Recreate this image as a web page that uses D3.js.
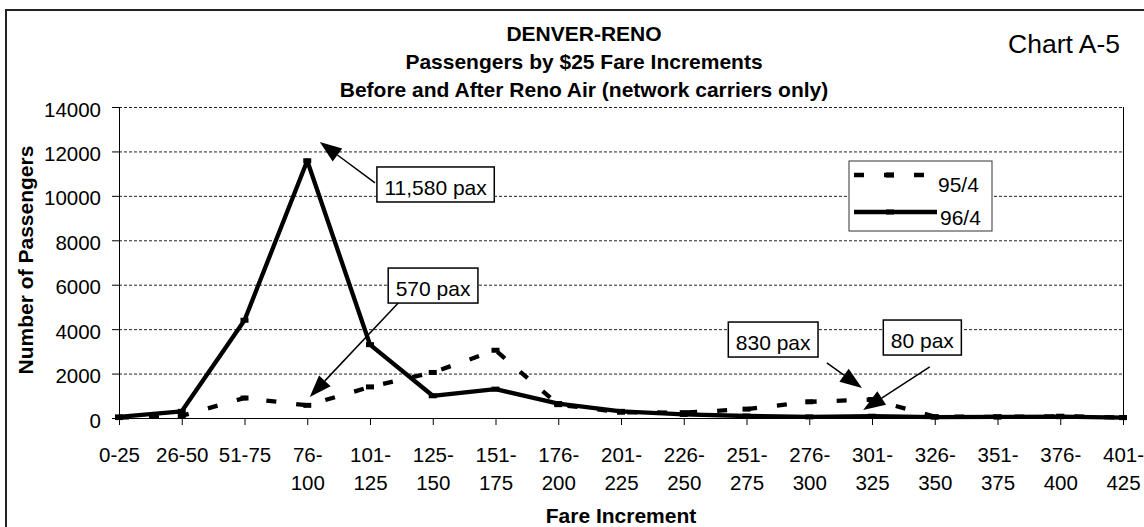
<!DOCTYPE html>
<html>
<head>
<meta charset="utf-8">
<script src="https://cdn.jsdelivr.net/npm/d3@7"></script>
<style>
  body { margin: 0; background: #fff; }
  svg { display: block; font-family: Arial, "Liberation Sans", sans-serif; }
</style>
</head>
<body>
<svg width="1144" height="527"></svg>
<script>
// fare buckets and passenger counts
var categories = ["0-25", "26-50", "51-75", "76-100", "101-125", "125-150", "151-175", "176-200", "201-225",
                  "226-250", "251-275", "276-300", "301-325", "326-350", "351-375", "376-400", "401-425"];
var pax95 = [20, 100, 900, 570, 1400, 2050, 3050, 600, 260, 240, 400, 730, 830, 60, 50, 80, 20];
var pax96 = [50, 300, 4400, 11580, 3300, 1000, 1300, 650, 300, 160, 90, 50, 80, 40, 50, 60, 20];
var yTicks = [0, 2000, 4000, 6000, 8000, 10000, 12000, 14000];
var seriesNames = ["95/4", "96/4"];
var titleLines = ["DENVER-RENO", "Passengers by $25 Fare Increments", "Before and After Reno Air (network carriers only)"];

// callouts, placed in chart units: [category index, passengers]
var notes = [
  {text: "11,580 pax", box: [4.11, 11300], tail: [4.08, 10580], tip: [3.20, 12430]},
  {text: "570 pax",    box: [4.29, 6750],  tail: [4.45, 5180],  tip: [3.04, 950]},
  {text: "830 pax",    box: [9.71, 4320],  tail: [11.28, 2480], tip: [11.84, 1350]},
  {text: "80 pax",     box: [12.18, 4410], tail: [12.92, 2300], tip: [11.86, 360]}
];

var svg = d3.select("svg"),
    margin = {top: 107, right: 21, bottom: 109, left: 119},
    width = +svg.attr("width") - margin.left - margin.right,
    height = +svg.attr("height") - margin.top - margin.bottom,
    x = d3.scalePoint().domain(categories).range([0, width]),
    xi = d3.scaleLinear().domain([0, categories.length - 1]).range([0, width]),
    y = d3.scaleLinear().domain([0, 14000]).range([height, 0]),
    g = svg.append("g").attr("transform", "translate(" + margin.left + "," + margin.top + ")");

// outer frame (runs off the right and bottom edge like the scan)
svg.insert("rect", ":first-child")
    .attr("x", 6).attr("y", 10)
    .attr("width", 1160).attr("height", 540)
    .attr("fill", "none").attr("stroke", "#222").attr("stroke-width", 2);

// titles
svg.append("text")
    .attr("text-anchor", "middle")
    .style("font-weight", "bold").style("font-size", "21px")
    .selectAll("tspan")
    .data(titleLines)
    .enter().append("tspan")
      .attr("x", 584)
      .attr("y", function(d, i) { return 41 + i * 28; })
      .text(function(d) { return d; });

svg.append("text")
    .attr("x", 1120).attr("y", 53)
    .attr("text-anchor", "end")
    .style("font-size", "26.5px")
    .text("Chart A-5");

// gridlines
g.selectAll(".grid")
  .data(yTicks.filter(function(d) { return d > 0; }))
  .enter().append("line")
    .attr("class", "grid")
    .attr("x1", 0).attr("x2", width)
    .attr("y1", function(d) { return y(d) + 0.5; })
    .attr("y2", function(d) { return y(d) + 0.5; })
    .attr("stroke", "#222").attr("stroke-width", 1).attr("stroke-dasharray", "3,2");

// right edge of the plot area
g.append("line")
    .attr("x1", width + 0.5).attr("x2", width + 0.5)
    .attr("y1", 0).attr("y2", height)
    .attr("stroke", "#000");

// y-axis
var yAxis = g.append("g")
    .call(d3.axisLeft(y).tickValues(yTicks).tickSize(7).tickSizeOuter(0).tickFormat(d3.format("d")));
yAxis.selectAll("text")
    .attr("x", -18).attr("dy", 9)
    .style("font-size", "20.5px").style("font-family", "inherit").attr("fill", "#000");

// x-axis, long labels broken after the dash
var xAxis = g.append("g")
    .attr("transform", "translate(0," + height + ")")
    .call(d3.axisBottom(x).tickSize(7).tickSizeOuter(0));
xAxis.selectAll("text").each(function(d) {
  var t = d3.select(this).text(null).attr("y", 0).attr("dy", null)
      .style("font-size", "20.5px").style("font-family", "inherit").attr("fill", "#000");
  var parts = d.length > 5 ? [d.slice(0, d.indexOf("-") + 1), d.slice(d.indexOf("-") + 1)] : [d];
  parts.forEach(function(p, i) {
    t.append("tspan").attr("x", 0).attr("y", 44 + i * 28).text(p);
  });
});
svg.selectAll(".domain, .tick line").attr("stroke", "#000");

// axis titles
svg.append("text")
    .attr("x", 621).attr("y", 523)
    .attr("text-anchor", "middle")
    .style("font-weight", "bold").style("font-size", "21px")
    .text("Fare Increment");

svg.append("text")
    .attr("transform", "translate(33,260) rotate(-90)")
    .attr("text-anchor", "middle")
    .style("font-weight", "bold").style("font-size", "21px")
    .text("Number of Passengers");

// the two series
var line = d3.line()
    .x(function(d, i) { return x(categories[i]); })
    .y(function(d) { return y(d); });

var series = [
  {name: seriesNames[0], values: pax95, dash: "10,20"},
  {name: seriesNames[1], values: pax96, dash: null}
];

series.forEach(function(s) {
  g.append("path")
      .datum(s.values)
      .attr("d", line)
      .attr("fill", "none")
      .attr("stroke", "#000")
      .attr("stroke-width", 4.3)
      .attr("stroke-linejoin", "round")
      .attr("stroke-dasharray", s.dash);

  g.selectAll(null)
    .data(s.values)
    .enter().append("rect")
      .attr("x", function(d, i) { return x(categories[i]) - 4; })
      .attr("y", function(d) { return y(d) - 2.5; })
      .attr("width", 8).attr("height", 5)
      .attr("fill", "#000");
});

// callouts with arrows
function arrowHead(x1, y1, x2, y2) {
  var a = Math.atan2(y2 - y1, x2 - x1), len = 22, w = 8,
      bx = x2 - len * Math.cos(a), by = y2 - len * Math.sin(a);
  return [[x2, y2],
          [bx + w * Math.sin(a), by - w * Math.cos(a)],
          [bx - w * Math.sin(a), by + w * Math.cos(a)]];
}

notes.forEach(function(n) {
  var bx = xi(n.box[0]), by = y(n.box[1]),
      tx = xi(n.tail[0]), ty = y(n.tail[1]),
      px = xi(n.tip[0]), py = y(n.tip[1]);
  var pts = arrowHead(tx, ty, px, py);

  g.append("line")
      .attr("x1", tx).attr("y1", ty)
      .attr("x2", (pts[1][0] + pts[2][0]) / 2).attr("y2", (pts[1][1] + pts[2][1]) / 2)
      .attr("stroke", "#000").attr("stroke-width", 1.5);
  g.append("polygon")
      .attr("points", pts.map(function(p) { return p.join(","); }).join(" "))
      .attr("fill", "#000");

  var box = g.append("rect")
      .attr("x", bx).attr("y", by).attr("height", 35)
      .attr("fill", "#fff").attr("stroke", "#000").attr("stroke-width", 1.5);
  var label = g.append("text")
      .attr("x", bx + 7.5).attr("y", by + 28)
      .style("font-size", "21px")
      .text(n.text);
  box.attr("width", label.node().getComputedTextLength() + 15);
});

// legend
var legend = svg.append("g").attr("transform", "translate(849,161)");
legend.append("rect")
    .attr("width", 143).attr("height", 70)
    .attr("fill", "#fff").attr("stroke", "#333").attr("stroke-width", 1);

series.forEach(function(s, i) {
  var ly = i === 0 ? 14 : 51;
  legend.append("line")
      .attr("x1", 5).attr("x2", i === 0 ? 77 : 88)
      .attr("y1", ly).attr("y2", ly)
      .attr("stroke", "#000").attr("stroke-width", 4.3)
      .attr("stroke-dasharray", s.dash);
  legend.append("rect")
      .attr("x", 37).attr("y", ly - 2.5)
      .attr("width", 8).attr("height", 5)
      .attr("fill", "#000");
  legend.append("text")
      .attr("x", i === 0 ? 89 : 91)
      .attr("y", i === 0 ? 31 : 64)
      .style("font-size", "21px")
      .text(s.name);
});
</script>
</body>
</html>
